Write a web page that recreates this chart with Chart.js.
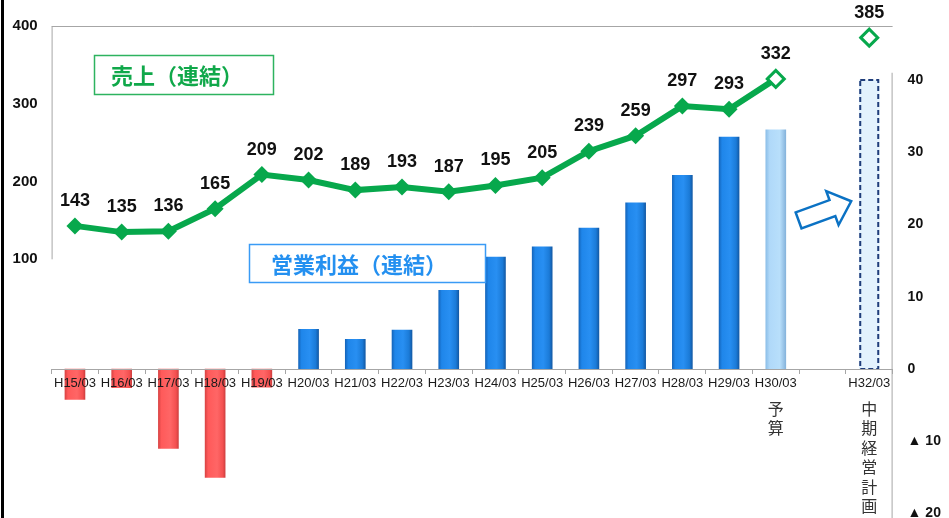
<!DOCTYPE html>
<html><head><meta charset="utf-8">
<script src="https://cdn.jsdelivr.net/npm/chart.js@4"></script>
<style>html,body{margin:0;padding:0;background:#fff;overflow:hidden;}#wrap{position:relative;width:949px;height:518px;}</style>
</head><body><div id="wrap"><canvas id="c" width="949" height="518"></canvas></div>
<script>
const categories = ['H15/03','H16/03','H17/03','H18/03','H19/03','H20/03','H21/03','H22/03','H23/03','H24/03','H25/03','H26/03','H27/03','H28/03','H29/03','H30/03','','H32/03'];
const salesValues = [143,135,136,165,209,202,189,193,187,195,205,239,259,297,293,332,null,385];
const profitValues = [-4.2,-2.6,-11.0,-15.0,-2.5,5.5,4.1,5.4,10.9,15.5,16.9,19.5,23.0,26.8,32.1,33.1,null,40];
const salesTicks = [100,200,300,400];
const profitTicks = [-20,-10,0,10,20,30,40];
const notes = ['','','','','','','','','','','','','','','','予算','','中期経営計画'];
const salesTitle = '売上（連結）';
const profitTitle = '営業利益（連結）';
const budgetIndex = categories.indexOf('H30/03');
const planIndex = categories.indexOf('H32/03');

const FONT = 'Arial, "Liberation Sans", Helvetica, sans-serif';
const CJK = '"Noto Sans CJK JP", "Noto Sans CJK SC", sans-serif';
const GREEN = '#07A84C';
const BAR_W = 20;

function barFill(ctx) {
  const chart = ctx.chart;
  const i = ctx.dataIndex;
  const v = ctx.raw;
  const xs = chart.scales.x;
  const base = v < 0 ? '#FF5A5A' : (i === budgetIndex ? '#B0D9F9' : (i === planIndex ? '#E3F2FD' : '#2388EA'));
  if (!xs || v == null || i === planIndex) return base;
  const px = xs.getPixelForValue(i);
  if (!isFinite(px)) return base;
  const g = chart.ctx.createLinearGradient(px - BAR_W/2, 0, px + BAR_W/2, 0);
  if (v < 0) {
    g.addColorStop(0, '#DA4444'); g.addColorStop(0.15, '#FF5A5A'); g.addColorStop(0.6, '#FF6666');
    g.addColorStop(0.88, '#F45050'); g.addColorStop(1, '#D04040');
  } else if (i === budgetIndex) {
    g.addColorStop(0, '#8DBFE8'); g.addColorStop(0.2, '#B0D9F9'); g.addColorStop(0.7, '#B8DFFB');
    g.addColorStop(1, '#86B4DC');
  } else {
    g.addColorStop(0, '#1566BC'); g.addColorStop(0.15, '#1F86EA'); g.addColorStop(0.55, '#288FF2');
    g.addColorStop(0.85, '#1B7BD8'); g.addColorStop(1, '#135AA6');
  }
  return g;
}

const deco = {
  id: 'deco',
  beforeDatasetsDraw(chart) {
    const c = chart.ctx, ys = chart.scales.y, yr = chart.scales.y1, a = chart.chartArea;
    c.save();
    c.strokeStyle = '#A6A6A6'; c.lineWidth = 1;
    const top = Math.round(ys.getPixelForValue(400)) + 0.5;
    c.beginPath();
    c.moveTo(a.left, top); c.lineTo(a.right, top);
    c.moveTo(a.left + 0.5, top); c.lineTo(a.left + 0.5, ys.getPixelForValue(100));
    c.moveTo(a.right - 0.5, yr.getPixelForValue(41)); c.lineTo(a.right - 0.5, chart.height);
    c.stroke();
    c.restore();
  },
  afterDatasetsDraw(chart) {
    const c = chart.ctx;
    c.save();
    const bm = chart.getDatasetMeta(1);
    const el = bm.data[planIndex];
    if (el) {
      const p = el.getProps(['x','y','base','width'], true);
      c.strokeStyle = '#1F3D7A'; c.lineWidth = 2; c.setLineDash([5,3]);
      c.strokeRect(p.x - p.width/2 + 1, p.y, p.width - 2, p.base - p.y);
      c.setLineDash([]);
    }
    const lm = chart.getDatasetMeta(0);
    c.fillStyle = '#111'; c.font = 'bold 18px ' + FONT; c.textAlign = 'center'; c.textBaseline = 'middle';
    lm.data.forEach((pt, i) => {
      if (salesValues[i] == null) return;
      c.fillText(String(salesValues[i]), pt.x, pt.y - 25);
    });
    c.restore();
  },
  afterDraw(chart) {
    const c = chart.ctx, xs = chart.scales.x, yr = chart.scales.y1;
    c.save();
    c.lineWidth = 1.5;
    c.strokeStyle = '#2DB35F'; c.strokeRect(94.5, 55.5, 179, 39);
    c.fillStyle = '#10A84A'; c.font = 'bold 22px ' + CJK; c.textAlign = 'left'; c.textBaseline = 'middle';
    c.fillText(salesTitle, 111, 76);
    c.fillStyle = '#fff'; c.fillRect(250, 245, 236, 37);
    c.strokeStyle = '#3A9BF5'; c.strokeRect(249.5, 244.5, 236, 38);
    c.fillStyle = '#2490F0'; c.fillText(profitTitle, 271, 265);
    const axisY = yr.getPixelForValue(0);
    c.fillStyle = '#333'; c.font = '16px ' + CJK; c.textAlign = 'center'; c.textBaseline = 'middle';
    notes.forEach((n, i) => {
      if (!n) return;
      const x = xs.getPixelForValue(i);
      [...n].forEach((ch, k) => c.fillText(ch, x, axisY + 40 + k * 19.4));
    });
    const cx = xs.getPixelForValue(16) + 0.5, cy = yr.getPixelForValue(21.8);
    const ang = -20 * Math.PI / 180;
    const pts = [[-26,-8.5],[10,-8.5],[10,-18],[30,0],[10,18],[10,8.5],[-26,8.5]];
    c.beginPath();
    pts.forEach(([u,v], k) => {
      const X = cx + u*Math.cos(ang) - v*Math.sin(ang);
      const Y = cy + u*Math.sin(ang) + v*Math.cos(ang);
      k ? c.lineTo(X, Y) : c.moveTo(X, Y);
    });
    c.closePath();
    c.fillStyle = '#fff'; c.fill();
    c.strokeStyle = '#0B72C4'; c.lineWidth = 2.5; c.lineJoin = 'miter'; c.stroke();
    c.fillStyle = '#000'; c.fillRect(1, 0, 3, chart.height);
    c.restore();
  }
};

new Chart(document.getElementById('c'), {
  data: {
    labels: categories,
    datasets: [
      {
        type: 'line', label: salesTitle, data: salesValues, yAxisID: 'y', order: 0,
        borderColor: GREEN, borderWidth: 6, tension: 0, spanGaps: false,
        pointStyle: 'rectRot',
        pointRadius: 8.5,
        pointBackgroundColor: ctx => ctx.dataIndex >= budgetIndex ? '#fff' : GREEN,
        pointBorderColor: GREEN,
        pointBorderWidth: ctx => ctx.dataIndex >= budgetIndex ? 3 : 0
      },
      {
        type: 'bar', label: profitTitle, data: profitValues, yAxisID: 'y1', order: 1,
        barThickness: BAR_W, backgroundColor: barFill, borderWidth: 0
      }
    ]
  },
  options: {
    responsive: false, animation: false, devicePixelRatio: 1,
    layout: { autoPadding: false, padding: { top: 26, bottom: 0, left: 0, right: 0 } },
    plugins: { legend: { display: false }, tooltip: { enabled: false } },
    scales: {
      x: {
        type: 'category', position: { y1: 0 }, offset: true,
        grid: { display: true, drawOnChartArea: false, drawTicks: true, tickLength: 4, color: '#A6A6A6', offset: true, z: 1 },
        border: { display: true, color: '#A6A6A6', width: 1, z: 1 },
        ticks: { z: 1, autoSkip: false, maxRotation: 0, minRotation: 0, padding: 3, color: '#1a1a1a', font: { family: FONT, size: 13 } },
        afterFit(s) { s.paddingLeft = 0; s.paddingRight = 0; s.paddingTop = 0; s.paddingBottom = 0; }
      },
      y: {
        position: 'left', min: -232.6, max: 400,
        grid: { display: false, drawTicks: false }, border: { display: false },
        afterBuildTicks(s) { s.ticks = salesTicks.map(v => ({ value: v })); },
        ticks: { padding: 14, color: '#111', font: { family: FONT, size: 15, weight: 'bold' } },
        afterFit(s) { s.width = 51.6; s.paddingTop = 0; s.paddingBottom = 0; }
      },
      y1: {
        position: 'right', min: -20.62, max: 47.47,
        grid: { display: false, drawTicks: false }, border: { display: false },
        afterBuildTicks(s) { s.ticks = profitTicks.map(v => ({ value: v })); },
        ticks: { padding: 15, color: '#111', font: { family: FONT, size: 14, weight: 'bold' },
          callback: v => v < 0 ? '▲ ' + (-v) : String(v) },
        afterFit(s) { s.width = 56.4; s.paddingTop = 0; s.paddingBottom = 0; }
      }
    }
  },
  plugins: [deco]
});
</script></body></html>
